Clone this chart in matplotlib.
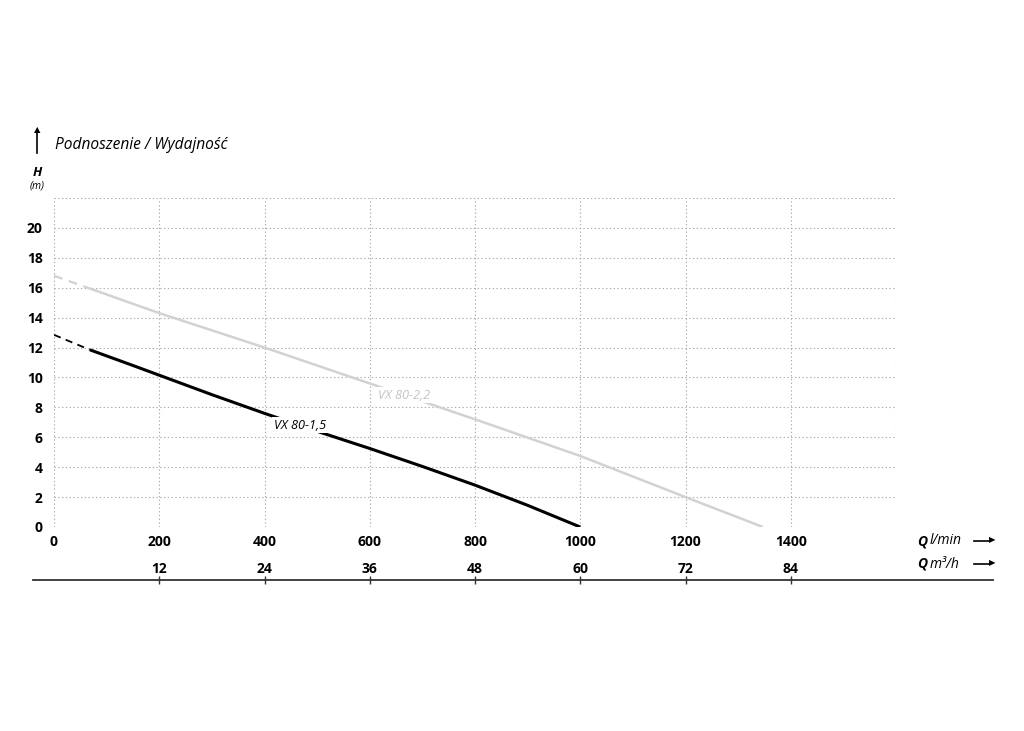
import numpy as np
import matplotlib.pyplot as plt
from matplotlib.lines import Line2D

plt.rcParams['font.family'] = ['Open Sans', 'DejaVu Sans']

# pump curves, Q in l/min, H in m
q_15_dash = [0, 68]
h_15_dash = [12.85, 11.85]
q_15 = [68, 150, 200, 300, 400, 500, 600, 700, 800, 900, 1000]
h_15 = [11.85, 10.8, 10.15, 8.85, 7.6, 6.4, 5.25, 4.05, 2.8, 1.45, 0.0]

q_22_dash = [0, 68]
h_22_dash = [16.8, 15.95]
q_22 = [68, 200, 400, 600, 800, 1000, 1200, 1347]
h_22 = [15.95, 14.3, 12.0, 9.6, 7.2, 4.75, 2.0, 0.0]

x_ticks = [0, 200, 400, 600, 800, 1000, 1200, 1400]
y_ticks = [0, 2, 4, 6, 8, 10, 12, 14, 16, 18, 20]
m3h_ticks = [200, 400, 600, 800, 1000, 1200, 1400]
m3h_labels = ['12', '24', '36', '48', '60', '72', '84']

W, H = 1024, 731
fig = plt.figure(figsize=(10.24, 7.31), dpi=100)

def fx(px):
    return px / W

def fy(py):
    return 1 - py / H

ax = fig.add_axes([fx(54), fy(527), fx(896) - fx(54), fy(198) - fy(527)])
ax.set_xlim(0, 1600)
ax.set_ylim(0, 22)

# dotted grid, including the frame
for xv in range(0, 1601, 200):
    ax.axvline(xv, color='#aaaaaa', lw=0.8, ls=(0, (1.2, 2.2)), zorder=0)
for yv in range(0, 23, 2):
    ax.axhline(yv, color='#aaaaaa', lw=0.8, ls=(0, (1.2, 2.2)), zorder=0)
for s in ax.spines.values():
    s.set_visible(False)

ax.plot(q_22_dash, h_22_dash, color='#d2d2d2', lw=1.6, ls=(0, (4, 3)))
ax.plot(q_22, h_22, color='#d2d2d2', lw=1.8, solid_capstyle='butt')
ax.plot(q_15_dash, h_15_dash, color='black', lw=1.3, ls=(0, (4, 3)))
ax.plot(q_15, h_15, color='black', lw=2.2, solid_capstyle='butt', solid_joinstyle='round')

ax.text(467, 6.8, 'VX 80-1,5', fontsize=9.2, style='italic', color='black',
        ha='center', va='center',
        bbox=dict(facecolor='white', edgecolor='none', pad=1.0))
ax.text(665, 8.8, 'VX 80-2,2', fontsize=9.2, style='italic', color='#c4c4c4',
        ha='center', va='center',
        bbox=dict(facecolor='white', edgecolor='none', pad=1.0))

ax.set_xticks(x_ticks)
ax.set_yticks(y_ticks)
ax.set_xticklabels([str(v) for v in x_ticks], fontweight='bold', fontsize=10)
ax.set_yticklabels([str(v) for v in y_ticks], fontweight='bold', fontsize=10)
ax.tick_params(axis='x', length=0, pad=6)
ax.tick_params(axis='y', length=0, pad=8)

# second scale m3/h
ax2 = fig.add_axes([fx(33), fy(580), fx(993) - fx(33), 0.0001])
q_per_px = 1600 / (896 - 54)
ax2.set_xlim((33 - 54) * q_per_px, (993 - 54) * q_per_px)
ax2.set_ylim(0, 1)
for k in ['left', 'right', 'bottom']:
    ax2.spines[k].set_visible(False)
ax2.spines['top'].set_color('#333333')
ax2.spines['top'].set_linewidth(1.3)
ax2.set_yticks([])
ax2.xaxis.tick_top()
ax2.set_xticks(m3h_ticks)
ax2.set_xticklabels(m3h_labels, fontweight='bold', fontsize=10)
ax2.tick_params(axis='x', direction='inout', length=6, width=1, color='#333333', pad=0)

# titles and unit labels
fig.text(fx(55), fy(145), 'Podnoszenie / Wydajność', fontsize=11.2, style='italic',
         ha='left', va='center')
fig.add_artist(Line2D([fx(37), fx(37)], [fy(153), fy(133)], color='black', lw=1.2))
fig.text(fx(37), fy(131), '▲', fontsize=6, ha='center', va='center')
fig.text(fx(37), fy(172), 'H', fontsize=9.5, fontweight='bold', style='italic',
         ha='center', va='center')
fig.text(fx(37), fy(186), '(m)', fontsize=7.5, style='italic', ha='center', va='center')

fig.text(fx(927), fy(541), 'Q', fontsize=10, fontweight='bold', style='italic',
         ha='right', va='center')
fig.text(fx(930), fy(541), 'l/min', fontsize=10, style='italic', ha='left', va='center')
fig.text(fx(927), fy(564), 'Q', fontsize=10, fontweight='bold', style='italic',
         ha='right', va='center')
fig.text(fx(930), fy(564), 'm³/h', fontsize=10, style='italic', ha='left', va='center')
for py in (541, 564):
    fig.add_artist(Line2D([fx(974), fx(990)], [fy(py), fy(py)], color='black', lw=1.2))
    fig.text(fx(992), fy(py), '▶', fontsize=6, ha='center', va='center')

fig.savefig('out.png', dpi=100)
